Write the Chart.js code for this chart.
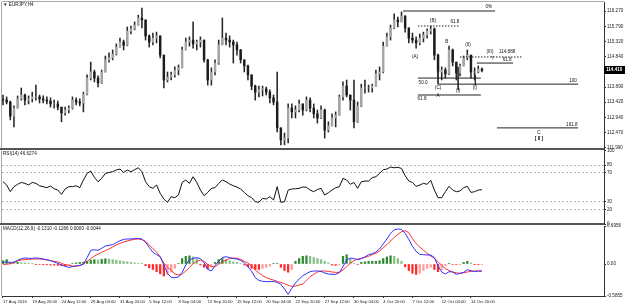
<!DOCTYPE html>
<html>
<head>
<meta charset="utf-8">
<script src="https://cdn.jsdelivr.net/npm/chart.js@4.4.1/dist/chart.umd.min.js"></script>
<style>
html,body{margin:0;padding:0;background:#fff;}
body{position:relative;width:625px;height:308px;overflow:hidden;}
canvas{position:absolute;left:0;}
</style>
</head>
<body>
<canvas id="cPrice" width="625" height="152" style="top:0px"></canvas>
<canvas id="cRsi" width="625" height="78" style="top:148px"></canvas>
<canvas id="cMacd" width="625" height="86" style="top:222px"></canvas>
<script>
// ---------- DATA (EURJPY H4, one entry per 8 hours) ----------
const dateLabels = ['17 Aug 2016','19 Aug 20:00','24 Aug 12:00','29 Aug 04:00','31 Aug 20:00','5 Sep 12:00','8 Sep 04:00','12 Sep 20:00','15 Sep 12:00','20 Sep 04:00','22 Sep 20:00','27 Sep 12:00','30 Sep 04:00','4 Oct 20:00','7 Oct 12:00','12 Oct 04:00','14 Oct 20:00'];
const LABEL_STEP = 8;

const opens = [113.50,113.48,113.42,112.98,113.23,113.52,113.64,113.48,113.52,113.58,
 113.58,113.52,113.48,113.45,113.36,113.36,113.26,113.08,113.17,113.23,
 113.48,113.42,113.39,113.67,114.17,114.36,114.17,114.02,114.36,114.74,
 114.80,114.92,115.14,115.30,115.20,115.64,115.71,115.83,116.05,115.99,
 115.49,115.30,115.42,115.49,114.89,114.11,114.20,114.27,114.42,114.49,
 115.05,115.30,115.36,115.24,115.30,115.36,114.74,114.11,114.36,114.64,
 115.21,115.42,115.36,115.30,115.21,115.05,114.74,114.55,114.27,113.92,
 113.73,113.80,113.83,113.73,113.55,113.42,112.61,112.23,112.29,113.23,
 113.11,113.17,113.36,113.17,113.48,113.23,113.05,112.92,113.17,112.54,
 112.67,112.92,113.01,113.58,113.92,113.64,113.48,112.80,113.30,113.86,
 113.86,113.86,113.92,114.30,114.36,115.17,115.46,115.74,115.99,115.93,
 116.11,115.74,115.42,115.36,115.27,115.42,115.52,115.64,115.71,114.89,
 114.36,114.42,114.30,115.05,114.67,114.33,114.55,114.80,114.89,114.36,
 114.36,114.45];
const highs = [113.64,113.58,113.45,113.30,113.61,113.86,113.67,113.61,113.73,113.95,
 113.64,113.61,113.58,113.55,113.48,113.45,113.26,113.26,113.30,113.58,
 113.55,113.52,113.73,114.27,114.67,114.42,114.24,114.42,114.86,114.96,
 115.05,115.24,115.42,115.36,115.77,115.80,115.93,116.14,116.36,115.99,
 115.52,115.58,115.61,115.49,114.89,114.36,114.36,114.52,114.58,115.14,
 115.42,115.46,115.93,115.36,115.46,115.36,114.76,114.49,114.74,115.36,
 116.05,115.58,115.49,115.36,115.30,115.07,114.74,114.58,114.27,113.95,
 113.92,113.92,113.89,113.80,113.64,114.36,112.61,112.45,113.36,113.36,
 113.30,113.48,113.36,113.58,113.55,113.36,113.17,113.30,113.20,112.80,
 113.05,113.11,113.64,114.05,114.11,113.64,114.11,113.42,113.98,114.11,
 113.95,113.98,114.42,114.52,115.30,115.58,115.83,116.18,116.08,116.24,
 116.13,115.74,115.58,115.46,115.55,115.61,115.71,115.80,115.74,114.92,
 114.52,114.49,115.17,115.08,114.67,114.61,114.86,115.05,114.89,114.49,
 114.55,114.49];
const lows = [113.33,113.36,112.86,112.64,113.23,113.48,113.33,113.36,113.42,113.48,
 113.39,113.39,113.36,113.26,113.23,113.17,112.80,113.01,113.08,113.20,
 113.33,113.30,113.11,113.64,114.11,114.05,113.89,114.00,114.36,114.67,
 114.74,114.89,115.14,115.05,115.18,115.55,115.68,115.83,115.74,115.36,
 115.14,115.21,115.27,114.80,113.86,114.05,114.11,114.20,114.27,114.49,
 115.05,115.17,115.11,115.05,115.14,114.67,113.95,113.95,114.27,114.60,
 115.21,115.21,115.14,114.64,114.89,114.64,114.36,114.11,113.80,113.48,
 113.58,113.61,113.64,113.39,113.33,112.48,112.08,112.08,112.14,112.92,
 112.92,113.11,113.01,113.14,113.11,112.92,112.76,112.90,112.29,112.48,
 112.67,112.64,113.01,113.48,113.58,113.17,112.61,112.78,113.28,113.70,
 113.73,113.73,113.92,114.11,114.33,115.17,115.36,115.72,115.77,115.93,
 115.61,115.27,115.27,115.11,115.21,115.30,115.42,115.55,114.74,114.17,
 114.11,114.17,114.28,114.55,114.11,114.24,114.55,114.74,114.17,114.11,
 114.33,114.36];
const closes = [113.48,113.42,112.98,113.23,113.52,113.64,113.48,113.52,113.58,113.58,
 113.52,113.48,113.45,113.36,113.36,113.26,113.08,113.17,113.23,113.48,
 113.42,113.39,113.67,114.17,114.36,114.17,114.02,114.36,114.74,114.80,
 114.92,115.14,115.30,115.20,115.64,115.71,115.83,116.05,115.99,115.49,
 115.30,115.42,115.49,114.89,114.11,114.20,114.27,114.42,114.49,115.05,
 115.30,115.36,115.24,115.30,115.36,114.74,114.11,114.36,114.64,115.21,
 115.42,115.36,115.30,115.21,115.05,114.74,114.55,114.27,113.92,113.73,
 113.80,113.83,113.73,113.55,113.42,112.61,112.23,112.29,113.23,113.11,
 113.17,113.36,113.17,113.48,113.23,113.05,112.92,113.17,112.54,112.67,
 112.92,113.01,113.58,113.92,113.64,113.48,112.80,113.30,113.86,113.86,
 113.86,113.92,114.30,114.36,115.17,115.46,115.74,115.99,115.93,116.11,
 115.74,115.42,115.36,115.27,115.42,115.52,115.64,115.71,114.89,114.36,
 114.42,114.30,115.05,114.67,114.33,114.55,114.80,114.89,114.36,114.36,
 114.45,114.41];

const rsiValues = [57.5,53,44,50.8,54,56.5,55.3,53,56.5,55.3,
 52,50.8,49.4,51.7,48,46.2,40.4,47.6,50.8,50.8,
 52,49.4,59.8,68.8,72,63.4,57.5,62.1,68.8,70.1,
 71.1,73.4,74.7,70.1,73.4,71.1,73.8,76.5,71.1,57.5,
 50.8,48.5,53,41.7,34,29.5,37.2,35.8,39.5,56.5,
 59.8,55.3,64.3,56.5,46.2,38.6,43,48.5,49.4,55.3,
 59.8,57.5,54.4,52,50.3,47.6,43,38.6,35.8,30.4,
 29.5,34.9,34,37.2,32.7,50.8,29.5,30.4,46.2,47.6,
 48,48.5,50.3,50,46.2,44,47,48.5,39.5,42.6,
 46.2,49.4,50.8,62.1,59.8,54,56.5,48.5,57.5,58.4,
 58.4,63,64.3,68.8,73.8,74.7,77.4,76.5,77,75.6,
 65.7,58.4,56.5,51.2,53,55.3,54,59.4,46.2,35.8,
 35.8,44,51.2,46.2,44,44.9,49.4,51.2,43,44,
 46.2,46.63];

const macdMain = [0.024,0.043,0.018,0.037,0.067,0.098,0.110,0.104,0.104,0.110,
 0.104,0.092,0.079,0.061,0.037,0.012,-0.018,-0.043,-0.061,-0.049,
 -0.037,-0.024,-0.006,0.116,0.250,0.262,0.250,0.287,0.329,0.342,
 0.354,0.390,0.427,0.451,0.458,0.458,0.464,0.470,0.458,0.397,
 0.305,0.214,0.171,0.134,-0.018,-0.171,-0.244,-0.250,-0.238,-0.153,
 -0.018,0.079,0.104,0.116,0.098,0.024,-0.098,-0.128,-0.031,0.055,
 0.116,0.134,0.116,0.098,0.092,0.067,0.024,-0.049,-0.134,-0.250,
 -0.299,-0.317,-0.323,-0.323,-0.317,-0.336,-0.372,-0.458,-0.555,-0.445,
 -0.348,-0.275,-0.214,-0.177,-0.140,-0.128,-0.128,-0.134,-0.165,-0.183,
 -0.189,-0.189,-0.159,-0.049,0.073,0.110,0.098,0.079,0.098,0.128,
 0.171,0.189,0.220,0.275,0.366,0.458,0.561,0.628,0.641,0.634,
 0.561,0.451,0.323,0.232,0.177,0.171,0.165,0.165,0.116,-0.037,
 -0.146,-0.183,-0.140,-0.146,-0.189,-0.171,-0.153,-0.104,-0.122,-0.140,
 -0.128,-0.131];
const macdSignal = [-0.006,-0.006,0.006,0.024,0.055,0.073,0.079,0.085,0.092,0.092,
 0.092,0.085,0.073,0.061,0.049,0.037,0.012,-0.012,-0.024,-0.037,
 -0.037,-0.031,0.006,0.049,0.098,0.146,0.183,0.214,0.244,0.275,
 0.311,0.348,0.378,0.403,0.421,0.439,0.451,0.458,0.445,0.415,
 0.348,0.281,0.220,0.128,0.018,-0.061,-0.110,-0.183,-0.201,-0.183,
 -0.128,-0.061,0.006,0.049,0.073,0.049,-0.006,-0.049,-0.049,-0.006,
 0.043,0.067,0.104,0.110,0.104,0.085,0.049,0.018,-0.037,-0.110,
 -0.165,-0.214,-0.250,-0.275,-0.293,-0.317,-0.336,-0.360,-0.390,-0.409,
 -0.403,-0.384,-0.366,-0.299,-0.232,-0.189,-0.146,-0.128,-0.128,-0.134,
 -0.146,-0.153,-0.153,-0.110,-0.049,0.012,0.061,0.092,0.104,0.122,
 0.140,0.171,0.195,0.238,0.299,0.354,0.421,0.488,0.543,0.592,
 0.610,0.573,0.464,0.372,0.311,0.256,0.195,0.146,0.104,0.043,
 -0.024,-0.085,-0.116,-0.146,-0.159,-0.171,-0.159,-0.146,-0.134,-0.128,
 -0.128,-0.1266];
const macdHist = [0.06,0.08,0.04,0.03,0.03,0.025,0.02,0.015,0.01,-0.005,
 -0.01,-0.015,-0.015,-0.02,-0.02,-0.025,-0.03,-0.03,-0.02,0.01,
 0.02,0.03,0.035,0.05,0.07,0.08,0.075,0.085,0.095,0.09,
 0.08,0.07,0.06,0.05,0.04,0.03,0.02,0.01,0.005,-0.03,
 -0.07,-0.1,-0.14,-0.18,-0.22,-0.2,-0.15,-0.08,0.01,0.1,
 0.14,0.15,0.13,0.1,-0.02,-0.06,-0.09,-0.05,0.03,0.08,
 0.1,0.08,0.06,0.04,0.03,0.01,-0.02,-0.05,-0.08,-0.1,
 -0.1,-0.08,-0.06,-0.04,0.01,0.01,-0.06,-0.12,-0.15,-0.1,
 0.05,0.1,0.14,0.15,0.14,0.12,0.1,0.08,0.05,0.02,
 -0.02,-0.025,-0.02,0.14,0.17,0.1,0.01,-0.01,0.03,0.04,
 0.05,0.05,0.05,0.06,0.1,0.13,0.15,0.14,0.1,0.05,
 -0.05,-0.12,-0.17,-0.19,-0.17,-0.12,-0.08,-0.06,-0.1,-0.14,
 -0.1,-0.03,0.01,-0.01,-0.01,-0.005,0.03,0.05,0.02,-0.005,
 -0.005,-0.0044];

const priceTicks = [116.270,115.790,115.320,114.840,114.370,113.890,113.420,112.940,112.470,111.990];
const rsiTicks = [100,80,70,30,20,0];
const rsiLevels = [80,70,30,20];
const macdTicks = [0.6956,0,-0.5855];
const macdTickLabels = ['0.6956','0.00','-0.5855'];

// Elliott-wave / Fibonacci annotations (bar index, price)
const levelLines = [
  {x1:109.4, x2:134.6, y:116.27, dash:false},
  {x1:113.5, x2:125.0, y:115.80, dash:true},
  {x1:125.0, x2:142.2, y:114.83, dash:true},
  {x1:129.6, x2:139.5, y:114.64, dash:false},
  {x1:113.5, x2:130.7, y:114.17, dash:false},
  {x1:119.0, x2:157.3, y:113.98, dash:false},
  {x1:113.5, x2:130.7, y:113.64, dash:false},
  {x1:135.1, x2:157.3, y:112.61, dash:false}
];
const waveTicks = [
  {x:119.0, y1:114.42, y2:113.98},
  {x:124.5, y1:114.52, y2:113.80},
  {x:129.2, y1:114.27, y2:113.95}
];
const waveNotes = [
  {t:'0%', x:132.9, y:116.40},
  {t:'(B)', x:117.6, y:115.97},
  {t:'61.8', x:123.6, y:115.94},
  {t:'(A)', x:112.7, y:114.83},
  {t:'B', x:121.4, y:115.31},
  {t:'(II)', x:127.2, y:115.21},
  {t:'(III)', x:133.2, y:114.99},
  {t:'114.888', x:137.9, y:114.99},
  {t:'?', x:133.8, y:114.77},
  {t:'61.8', x:137.9, y:114.74},
  {t:'50.0', x:114.9, y:114.02},
  {t:'100', x:155.9, y:114.09},
  {t:'(C)', x:119.0, y:113.86},
  {t:'(I)', x:124.5, y:113.78},
  {t:'[I]', x:129.1, y:113.86},
  {t:'A', x:119.0, y:113.61},
  {t:'61.8', x:114.6, y:113.52},
  {t:'161.8', x:155.6, y:112.70},
  {t:'C', x:146.6, y:112.45},
  {t:'[ II ]', x:146.6, y:112.26, bold:true}
];

// ---------- CHART SETUP ----------
const FONT = "'Liberation Sans', Arial, sans-serif";
Chart.defaults.font.family = FONT;
Chart.defaults.font.size = 4.6;
Chart.defaults.color = '#1a1a1a';
Chart.defaults.animation = false;

const X_MIN = -0.27, X_MAX = 164.39;

function tight(size, horizontal) {
  return function (s) {
    if (horizontal) s.height = size; else s.width = size;
    s.paddingTop = 0; s.paddingBottom = 0; s.paddingLeft = 0; s.paddingRight = 0;
  };
}
const xHidden = {type:'linear', min:X_MIN, max:X_MAX, display:false, offset:false, grid:{offset:false}};

const mtDecor = {
  id: 'mtDecor',
  afterDatasetsDraw(chart, args, opts) {
    const ctx = chart.ctx, a = chart.chartArea;
    ctx.save();
    ctx.strokeStyle = '#a8a8a8'; ctx.lineWidth = 1;
    ctx.beginPath(); ctx.moveTo(a.left - 0.5, a.top); ctx.lineTo(a.left - 0.5, a.bottom); ctx.stroke();
    if (opts.topLine) {
      ctx.beginPath(); ctx.moveTo(a.left, a.top - 0.5); ctx.lineTo(a.right, a.top - 0.5); ctx.stroke();
    }
    if (opts.bottomThick) {
      ctx.strokeStyle = '#555'; ctx.lineWidth = 2;
      ctx.beginPath(); ctx.moveTo(0, a.bottom); ctx.lineTo(a.right, a.bottom); ctx.stroke();
    }
    ctx.fillStyle = '#111'; ctx.textBaseline = 'middle';
    ctx.font = '4.6px ' + FONT; ctx.textAlign = 'left';
    (opts.titles || []).forEach(t => ctx.fillText(t.t, t.x, t.y));
    const xs = chart.scales.x, ys = chart.scales.y;
    ctx.textAlign = 'center';
    (opts.notes || []).forEach(n => {
      ctx.font = (n.bold ? 'bold 4.8px ' : '4.6px ') + FONT;
      ctx.fillText(n.t, xs.getPixelForValue(n.x), ys.getPixelForValue(n.y));
    });
    if (opts.lastPrice !== undefined) {
      const y = Math.round(ys.getPixelForValue(opts.lastPrice));
      ctx.fillStyle = '#000';
      ctx.fillRect(ys.left, y - 4, 21, 8);
      ctx.fillStyle = '#fff'; ctx.textAlign = 'left'; ctx.font = 'bold 4.6px ' + FONT;
      ctx.fillText(opts.lastPrice.toFixed(3), ys.left + 2, y);
    }
    ctx.restore();
  }
};

// ---------- PRICE PANEL ----------
const priceDatasets = [
  {type:'bar', data: opens.map((o,i)=>({x:i, y:[o, closes[i]]})), grouped:false, barThickness:1.8,
   backgroundColor: opens.map((o,i)=> closes[i] >= o ? '#a6a6a6' : '#1c1c1c'), borderWidth:0, order:1},
  {type:'bar', data: highs.map((h,i)=>({x:i, y:[lows[i], h]})), grouped:false, barThickness:0.9,
   backgroundColor:'#262626', borderWidth:0, order:2}
];
levelLines.forEach(l => priceDatasets.push({
  type:'line', data:[{x:l.x1,y:l.y},{x:l.x2,y:l.y}], borderColor:'#222', borderWidth:1,
  borderDash: l.dash ? [1.5,1.5] : [], pointRadius:0, order:0
}));
waveTicks.forEach(w => priceDatasets.push({
  type:'line', data:[{x:w.x,y:w.y1},{x:w.x,y:w.y2}], borderColor:'#333', borderWidth:1, pointRadius:0, order:0
}));

new Chart(document.getElementById('cPrice'), {
  type:'bar',
  data:{datasets: priceDatasets},
  plugins:[mtDecor],
  options:{
    responsive:false, animation:false,
    layout:{padding:{left:2, top:2, right:0, bottom:3}},
    plugins:{legend:{display:false}, tooltip:{enabled:false},
      mtDecor:{topLine:true, bottomThick:true, titles:[{t:'\u25BC EURJPY,H4', x:3, y:5}], notes:waveNotes, lastPrice: closes[closes.length-1]}},
    scales:{
      x: xHidden,
      y:{position:'right', min:111.949, max:116.552,
         afterBuildTicks: s => { s.ticks = priceTicks.map(v => ({value:v})); },
         afterFit: tight(21, false),
         ticks:{padding:1, autoSkip:false, color:'#1a1a1a', callback: v => Number(v).toFixed(3)},
         grid:{drawOnChartArea:false, tickLength:2, color:'#333'},
         border:{color:'#333', width:1}}
    }
  }
});

// ---------- RSI PANEL ----------
new Chart(document.getElementById('cRsi'), {
  type:'line',
  data:{datasets:[{data: rsiValues.map((v,i)=>({x:i, y:v})), borderColor:'#111', borderWidth:1, pointRadius:0, tension:0}]},
  plugins:[mtDecor],
  options:{
    responsive:false, animation:false,
    layout:{padding:{left:2, top:2.4, right:0, bottom:1.9}},
    plugins:{legend:{display:false}, tooltip:{enabled:false},
      mtDecor:{bottomThick:true, titles:[{t:'RSI(14) 46.6274', x:3, y:6}]}},
    scales:{
      x: xHidden,
      y:{position:'right', min:0, max:100,
         afterBuildTicks: s => { s.ticks = rsiTicks.map(v => ({value:v})); },
         afterFit: tight(21, false),
         ticks:{padding:1, autoSkip:false, callback: v => String(v)},
         grid:{drawOnChartArea:true, tickLength:2, tickColor:'#333',
               color: c => (c.tick && rsiLevels.includes(c.tick.value)) ? '#b8b8b8' : 'rgba(0,0,0,0)'},
         border:{color:'#333', width:1, dash:[2,2]}}
    }
  }
});

// ---------- MACD PANEL ----------
const histColor = c => {
  const i = c.dataIndex, v = macdHist[i], p = i > 0 ? macdHist[i-1] : 0;
  if (v >= 0) return v >= p ? '#2f8a2f' : '#86c086';
  return v <= p ? '#ff2b2b' : '#ff9c9c';
};
new Chart(document.getElementById('cMacd'), {
  type:'bar',
  data:{datasets:[
    {type:'line', data: macdMain.map((v,i)=>({x:i, y:v})), borderColor:'#3030ff', borderWidth:1, pointRadius:0, tension:0, order:0},
    {type:'line', data: macdSignal.map((v,i)=>({x:i, y:v})), borderColor:'#ff3030', borderWidth:1, pointRadius:0, tension:0, order:1},
    {type:'bar', data: macdHist.map((v,i)=>({x:i, y:v})), grouped:false, barThickness:1.6, backgroundColor: histColor, borderWidth:0, order:2}
  ]},
  plugins:[mtDecor],
  options:{
    responsive:false, animation:false,
    layout:{padding:{left:2, top:4, right:0, bottom:0}},
    plugins:{legend:{display:false}, tooltip:{enabled:false},
      mtDecor:{titles:[{t:'MACD(12,26,9) -0.1310 -0.1266 0.0000 -0.0044', x:3, y:7}]}},
    scales:{
      x:{type:'linear', min:X_MIN, max:X_MAX, position:'bottom', offset:false,
         afterBuildTicks: s => { s.ticks = dateLabels.map((_,k) => ({value:k*LABEL_STEP})); },
         afterFit: tight(12, true),
         ticks:{align:'start', padding:1, maxRotation:0, autoSkip:false, font:{size:4.2},
                callback: v => dateLabels[Math.round(v / LABEL_STEP)]},
         grid:{drawOnChartArea:false, offset:false, tickLength:2, color:'#333'},
         border:{color:'#333', width:1}},
      y:{position:'right', min:-0.5855, max:0.6956,
         afterBuildTicks: s => { s.ticks = macdTicks.map(v => ({value:v})); },
         afterFit: tight(21, false),
         ticks:{padding:1, autoSkip:false, callback: (v, idx) => macdTickLabels[idx]},
         grid:{drawOnChartArea:false, tickLength:2, color:'#333'},
         border:{color:'#333', width:1}}
    }
  }
});
</script>
</body>
</html>
